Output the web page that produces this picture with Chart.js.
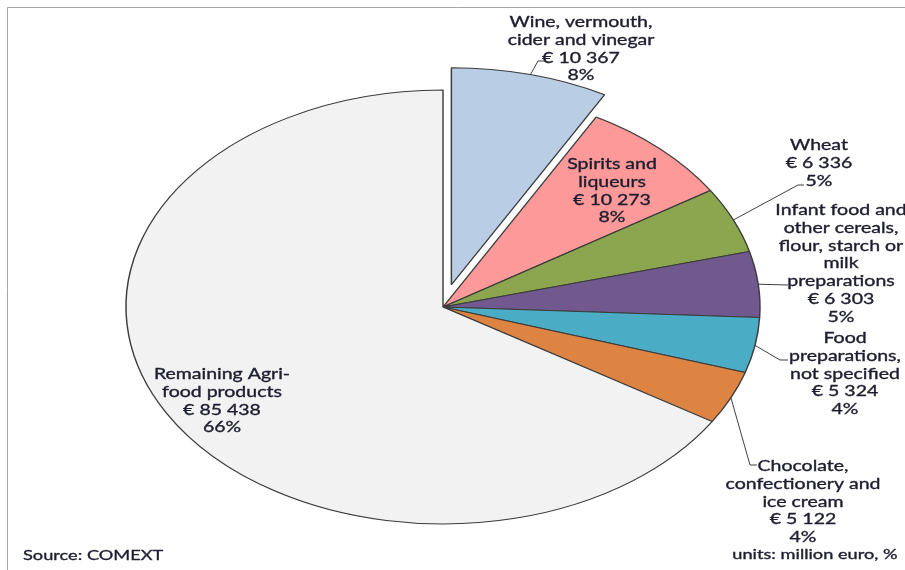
<!DOCTYPE html>
<html><head><meta charset="utf-8">
<script src="https://cdn.jsdelivr.net/npm/chart.js@4/dist/chart.umd.min.js"></script>
<style>html,body{margin:0;padding:0;background:#fff}#wrap{width:905px;height:570px;position:relative}</style>
</head><body><div id="wrap"><canvas id="c"></canvas></div>
<script>
// ---- data ----
const categories = [
  ["Wine, vermouth,", "cider and vinegar"],
  ["Spirits and", "liqueurs"],
  ["Wheat"],
  ["Infant food and", "other cereals,", "flour, starch or", "milk", "preparations"],
  ["Food", "preparations,", "not specified"],
  ["Chocolate,", "confectionery and", "ice cream"],
  ["Remaining Agri-", "food products"]
];
const values = [10367, 10273, 6336, 6303, 5324, 5122, 85438];
const colors = ['#b9cde5', '#fd9a99', '#8ba64e', '#71598f', '#4bacc6', '#dd8443', '#f2f2f2'];
const sourceText = 'Source: COMEXT';
const unitsText = 'units: million euro, %';

// ---- layout / style ----
const STRETCH_X = 317 / 217;   // pie drawn as ellipse
const TEXT_STRETCH = 1.3;
const FONT = '15px Lato';
const NOTE_FONT = '14px Lato';
const LINE_H = 17.8;
const TEXT_COLOR = '#1e1e30';
const EXPLODE = 23;
const labelLayout = [
  {x: 581, y: 22, leader: [[538, 61], [546, 61]]},
  {x: 612, y: 164},
  {x: 819, y: 145, leader: [[798, 185], [804, 185]]},
  {x: 841, y: 210, leader: [[788, 285]]},
  {x: 845, y: 338, leader: [[780, 360], [788, 360]]},
  {x: 803, y: 466, leader: [[750, 465], [757, 465]]},
  {x: 222, y: 374}
];

const total = values.reduce((a, b) => a + b, 0);
const fmt = v => '€ ' + String(v).replace(/\B(?=(\d{3})+(?!\d))/g, ' ');

function center(chart) {
  const a = chart.getDatasetMeta(0).data[1];
  return {cx: a.x, cy: a.y};
}
function toScreen(chart, px, py) {
  const {cx} = center(chart);
  return [cx + (px - cx) * STRETCH_X, py];
}
function drawText(ctx, s, x, y, align) {
  ctx.save();
  ctx.translate(x, y);
  ctx.scale(TEXT_STRETCH, 1);
  ctx.textAlign = align || 'center';
  ctx.fillText(s, 0, 0);
  ctx.lineWidth = 0.35;
  ctx.strokeStyle = TEXT_COLOR;
  ctx.strokeText(s, 0, 0);
  ctx.restore();
}

const piePlugin = {
  id: 'pieTweaks',
  afterUpdate(chart) {
    const a = chart.getDatasetMeta(0).data[0];
    const mid = (a.startAngle + a.endAngle) / 2;
    a.x += Math.cos(mid) * EXPLODE;
    a.y += Math.sin(mid) * EXPLODE;
  },
  beforeDraw(chart) {
    const ctx = chart.ctx;
    ctx.save();
    ctx.strokeStyle = '#a6a6a6';
    ctx.lineWidth = 1;
    ctx.beginPath();
    ctx.moveTo(7.5, 570);
    ctx.lineTo(7.5, 7.5);
    ctx.lineTo(905, 7.5);
    ctx.stroke();
    ctx.restore();
  },
  beforeDatasetsDraw(chart) {
    const ctx = chart.ctx;
    const {cx, cy} = center(chart);
    ctx.save();
    ctx.translate(cx, cy);
    ctx.scale(STRETCH_X, 1);
    ctx.translate(-cx, -cy);
  },
  afterDatasetsDraw(chart) {
    chart.ctx.restore();
  },
  afterDraw(chart) {
    const ctx = chart.ctx;
    const meta = chart.getDatasetMeta(0);
    ctx.save();
    ctx.font = FONT;
    ctx.fillStyle = TEXT_COLOR;
    ctx.textBaseline = 'alphabetic';
    meta.data.forEach((a, i) => {
      const L = labelLayout[i];
      if (L.leader) {
        const mid = (a.startAngle + a.endAngle) / 2;
        const p = toScreen(chart, a.x + Math.cos(mid) * a.outerRadius, a.y + Math.sin(mid) * a.outerRadius);
        ctx.strokeStyle = '#404040';
        ctx.lineWidth = 1;
        ctx.beginPath();
        ctx.moveTo(p[0], p[1]);
        L.leader.forEach(q => ctx.lineTo(q[0], q[1]));
        ctx.stroke();
      }
      const lines = categories[i].concat([fmt(values[i]), Math.round(values[i] / total * 100) + '%']);
      lines.forEach((s, k) => drawText(ctx, s, L.x, L.y + 5 + k * LINE_H, 'center'));
    });
    ctx.font = NOTE_FONT;
    drawText(ctx, sourceText, 23, 560, 'left');
    drawText(ctx, unitsText, 815, 559, 'center');
    ctx.restore();
  }
};

new Chart(document.getElementById('c'), {
  type: 'pie',
  data: {
    labels: categories,
    datasets: [{
      data: values,
      backgroundColor: colors,
      borderColor: '#3c3c3c',
      borderWidth: 1
    }]
  },
  options: {
    responsive: true,
    maintainAspectRatio: false,
    animation: false,
    events: [],
    radius: 217,
    layout: {padding: {left: 0, right: 19, top: 44, bottom: 0}},
    plugins: {legend: {display: false}, tooltip: {enabled: false}}
  },
  plugins: [piePlugin]
});
</script></body></html>
